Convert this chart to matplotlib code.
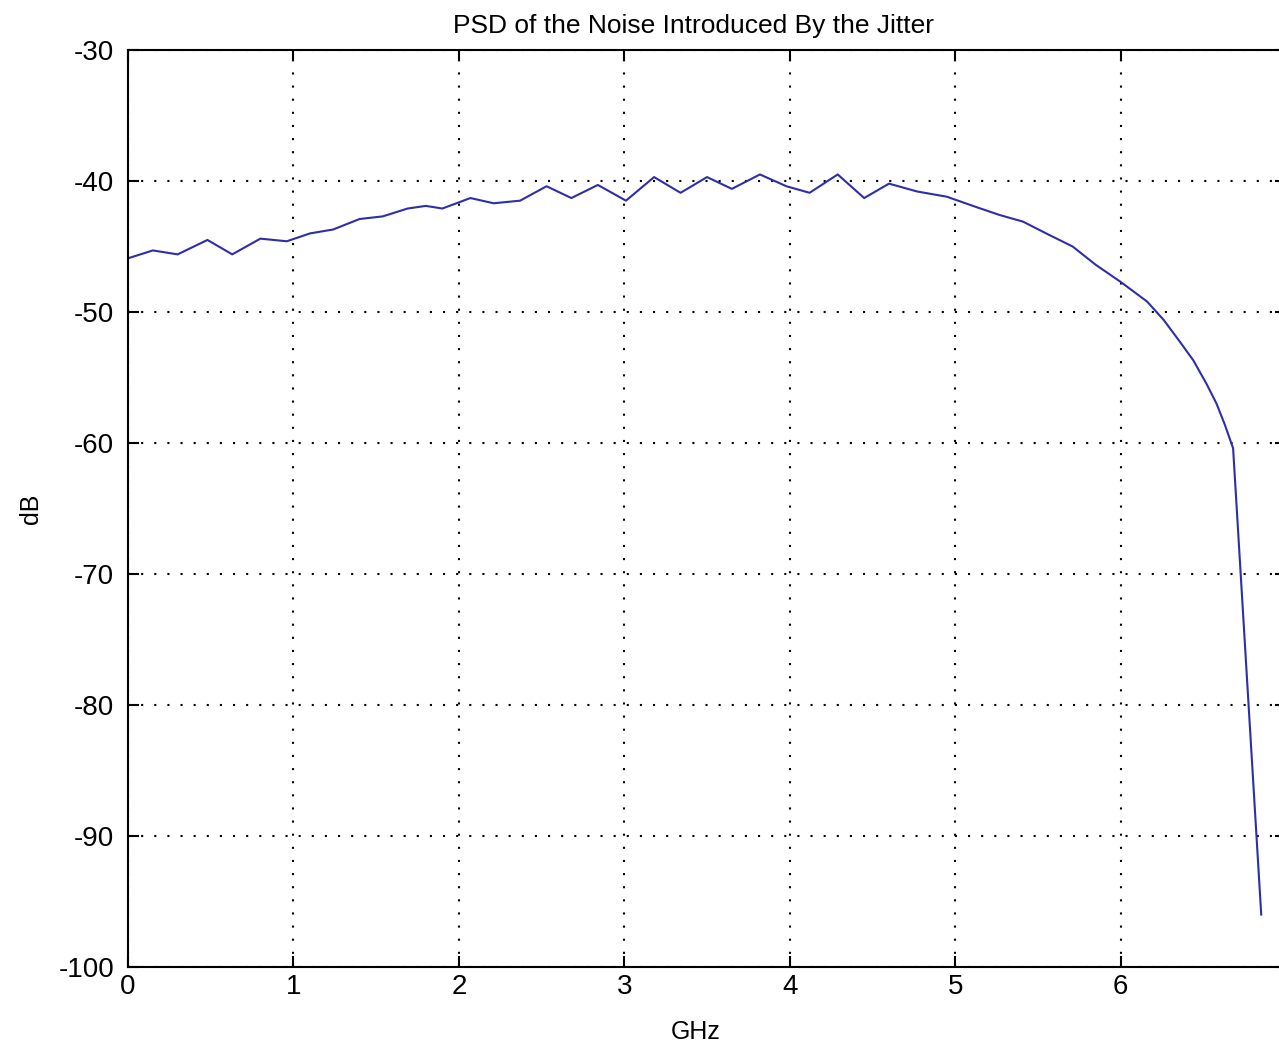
import matplotlib
matplotlib.use('Agg')
import matplotlib.pyplot as plt

# PSD of jitter noise, frequency in GHz and level in dB
freq_ghz = [0.0, 0.15, 0.30, 0.48, 0.63, 0.80, 0.96, 1.10, 1.24, 1.40, 1.54,
            1.69, 1.80, 1.90, 2.07, 2.21, 2.37, 2.53, 2.68, 2.84, 3.01, 3.18,
            3.34, 3.50, 3.65, 3.82, 3.98, 4.12, 4.29, 4.45, 4.60, 4.77, 4.95,
            5.13, 5.27, 5.41, 5.55, 5.71, 5.85, 6.00, 6.16, 6.26, 6.36, 6.44,
            6.52, 6.58, 6.63, 6.68, 6.85]
psd_db = [-45.9, -45.3, -45.6, -44.5, -45.6, -44.4, -44.6, -44.0, -43.7, -42.9,
          -42.7, -42.1, -41.9, -42.1, -41.3, -41.7, -41.5, -40.4, -41.3, -40.3,
          -41.5, -39.7, -40.9, -39.7, -40.6, -39.5, -40.4, -40.9, -39.5, -41.3,
          -40.2, -40.8, -41.2, -42.0, -42.6, -43.1, -44.0, -45.0, -46.4, -47.7,
          -49.2, -50.6, -52.3, -53.7, -55.5, -57.0, -58.6, -60.4, -96.0]

xticks = [0, 1, 2, 3, 4, 5, 6]
yticks = [-100, -90, -80, -70, -60, -50, -40, -30]

plt.rcParams['font.family'] = ['Liberation Sans', 'DejaVu Sans']

fig = plt.figure(figsize=(12.79, 10.42), dpi=100)
ax = fig.add_axes([0.1001, 0.072, 0.9054, 0.880])

ax.plot(freq_ghz, psd_db, color='#2e2ea8', linewidth=1.5)

ax.set_xlim(0, 7)
ax.set_ylim(-100, -30)
ax.set_xticks(xticks)
ax.set_yticks(yticks)
ax.set_xticklabels([str(t) for t in xticks])
ax.set_yticklabels([str(t) for t in yticks])

ax.grid(True, color='black', linestyle=(0, (1, 5.3)), linewidth=1.5)
ax.tick_params(direction='in', length=8, width=1.5, top=True, right=True,
               labelsize=20)
ax.tick_params(axis='y', pad=10)
ax.tick_params(axis='x', pad=5)
for s in ax.spines.values():
    s.set_linewidth(1.5)

ax.set_title('PSD of the Noise Introduced By the Jitter', fontsize=19,
             x=0.488, pad=12)
ax.set_xlabel('GHz', fontsize=18)
ax.xaxis.set_label_coords(0.49, -0.058)
ax.set_ylabel('dB', fontsize=18)
ax.yaxis.set_label_coords(-0.073, 0.5)

fig.savefig('out.png', dpi=100)
